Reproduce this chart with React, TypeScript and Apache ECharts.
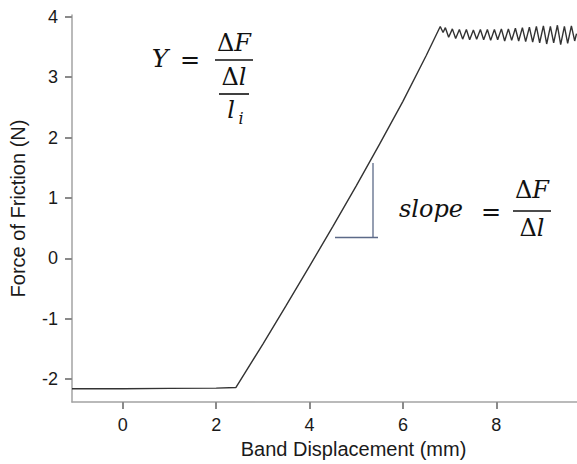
import React, { useEffect, useRef } from "react";
import * as echarts from "echarts";

// Band displacement (mm) and force of friction (N)
const displacement: number[] = [
  -1.09, 0.0, 1.0, 2.0, 2.42, 3.0, 3.5, 4.0, 4.5, 5.0, 5.5, 6.0, 6.5, 6.8,
  6.86, 6.91, 6.98, 7.06, 7.13, 7.21, 7.28, 7.36, 7.43, 7.51, 7.58, 7.66, 7.73, 7.81,
  7.88, 7.96, 8.03, 8.11, 8.18, 8.26, 8.33, 8.41, 8.48, 8.56, 8.63, 8.71, 8.78, 8.86,
  8.93, 9.01, 9.08, 9.16, 9.23, 9.31, 9.38, 9.46, 9.53, 9.61, 9.68, 9.72,
];
const friction: number[] = [
  -2.16, -2.16, -2.155, -2.15, -2.14, -1.42, -0.78, -0.13, 0.53, 1.2, 1.89, 2.6, 3.36, 3.84,
  3.74, 3.82, 3.66, 3.8, 3.64, 3.79, 3.63, 3.79, 3.62, 3.78, 3.63, 3.79, 3.62, 3.79,
  3.61, 3.79, 3.62, 3.8, 3.6, 3.8, 3.61, 3.81, 3.6, 3.82, 3.59, 3.83, 3.58, 3.84,
  3.57, 3.85, 3.55, 3.84, 3.57, 3.86, 3.54, 3.84, 3.56, 3.85, 3.6, 3.72,
];
const xTicks: number[] = [0, 2, 4, 6, 8];
const yTicks: number[] = [-2, -1, 0, 1, 2, 3, 4];

const X_MIN = -1.09;
const X_MAX = 9.73;
const Y_MIN = -2.38;
const Y_MAX = 4.03;

const AXIS_COLOR = "#a3a3a3";
const TICK_COLOR = "#8a8a8a";
const TEXT_COLOR = "#1a1a1a";
const SANS = "'Liberation Sans', Arial, sans-serif";
const SERIF = "'DejaVu Serif', serif";
const ANN = "#5c6a88";

export default function App() {
  const ref = useRef<HTMLDivElement>(null);
  useEffect(() => {
    if (!ref.current) return;
    const chart = echarts.init(ref.current, undefined, { renderer: "svg" });
    const data = displacement.map((x, i) => [x, friction[i]]);
    const mathRich = {
      u: { fontFamily: SERIF, fontSize: 24, fontStyle: "normal", fill: "#111", color: "#111" },
      v: { fontFamily: SERIF, fontSize: 24, fontStyle: "italic", fill: "#111", color: "#111" },
    };
    const txt = (x: number, y: number, text: string, size = 24, italic = true) => ({
      type: "text",
      x,
      y,
      style: {
        text,
        fill: "#111",
        font: `${italic ? "italic " : ""}${size}px ${SERIF}`,
        textAlign: "center",
        textVerticalAlign: "middle",
        align: "center",
        verticalAlign: "middle",
      },
    });
    const rich = (x: number, y: number, text: string) => ({
      type: "text",
      x,
      y,
      style: {
        text,
        rich: mathRich,
        fill: "#111",
        font: `24px ${SERIF}`,
        textAlign: "center",
        textVerticalAlign: "middle",
        align: "center",
        verticalAlign: "middle",
      },
    });
    const bar = (x1: number, x2: number, y: number) => ({
      type: "line",
      shape: { x1, y1: y, x2, y2: y },
      style: { stroke: "#111", lineWidth: 1.6 },
    });
    const annotations: any[] = [
      // Y = ΔF / (Δl / l_i)
      txt(160, 58, "Y", 25),
      txt(190, 60, "=", 24, false),
      rich(234, 43, "{u|Δ}{v|F}"),
      bar(215, 253, 60),
      rich(234, 77, "{u|Δ}{v|l}"),
      bar(219, 249, 94),
      txt(231, 110, "l", 24),
      txt(241, 118, "i", 16),
      // slope = ΔF / Δl
      txt(431, 209, "slope", 24),
      txt(491, 212, "=", 24, false),
      rich(532, 190, "{u|Δ}{v|F}"),
      bar(513, 551, 211),
      rich(532, 228, "{u|Δ}{v|l}"),
      // slope triangle
      { type: "line", shape: { x1: 373, y1: 163, x2: 373, y2: 238 }, style: { stroke: ANN, lineWidth: 1.3 } },
      { type: "line", shape: { x1: 335, y1: 237.5, x2: 378, y2: 237.5 }, style: { stroke: ANN, lineWidth: 1.3 } },
    ];
    chart.setOption({
      animation: false,
      backgroundColor: "#ffffff",
      grid: { left: 71, right: 0, top: 15, bottom: 58, containLabel: false },
      xAxis: {
        type: "value",
        min: X_MIN,
        max: X_MAX,
        name: "Band Displacement (mm)",
        nameLocation: "middle",
        nameGap: 37,
        nameTextStyle: { fontSize: 20, color: TEXT_COLOR, fontFamily: SANS, padding: [0, 0, 0, 58] },
        axisLine: { show: true, onZero: false, lineStyle: { color: AXIS_COLOR, width: 1.5 } },
        axisTick: { show: true, inside: false, length: 7, customValues: xTicks, lineStyle: { color: TICK_COLOR, width: 2 } },
        axisLabel: { customValues: xTicks, fontSize: 18, color: TEXT_COLOR, fontFamily: SANS, margin: 14 },
        splitLine: { show: false },
      },
      yAxis: {
        type: "value",
        min: Y_MIN,
        max: Y_MAX,
        name: "Force of Friction (N)",
        nameLocation: "middle",
        nameGap: 44,
        nameTextStyle: { fontSize: 20, color: TEXT_COLOR, fontFamily: SANS },
        axisLine: { show: true, onZero: false, lineStyle: { color: AXIS_COLOR, width: 1.5 } },
        axisTick: { show: true, inside: false, length: 7, customValues: yTicks, lineStyle: { color: TICK_COLOR, width: 2 } },
        axisLabel: { customValues: yTicks, fontSize: 18, color: TEXT_COLOR, fontFamily: SANS, margin: 14 },
        splitLine: { show: false },
      },
      series: [
        {
          type: "line",
          data,
          showSymbol: false,
          symbol: "none",
          lineStyle: { color: "#333333", width: 1.4 },
        },
      ],
      graphic: annotations,
    });
    return () => chart.dispose();
  }, []);
  return (
    <div
      ref={ref}
      style={{ position: "fixed", left: 0, top: 0, width: 577, height: 464, background: "#fff" }}
    />
  );
}
